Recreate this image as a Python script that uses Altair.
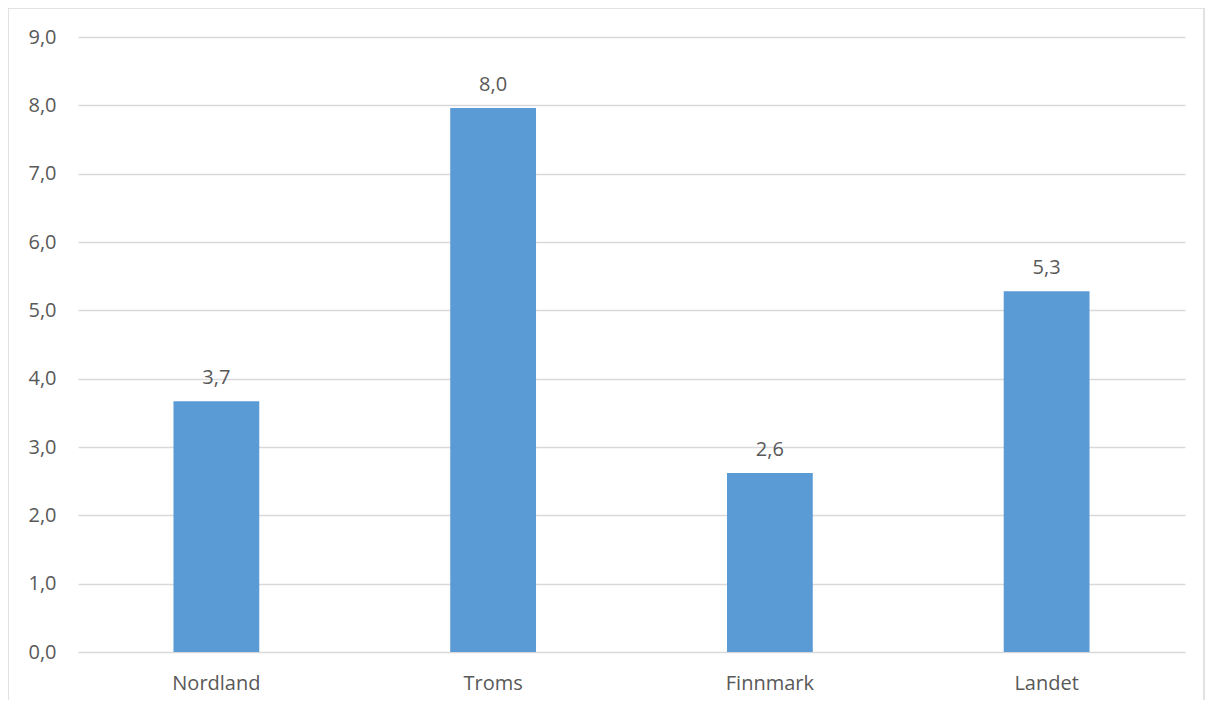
import altair as alt
import pandas as pd

regions = ["Nordland", "Troms", "Finnmark", "Landet"]
values = [3.67, 7.96, 2.62, 5.28]

df = pd.DataFrame({"region": regions, "value": values})

FONT = "Open Sans"
FS = 20
TXT = "#595959"
GRID = "#d9d9d9"

base = alt.Chart(df).encode(
    x=alt.X("region:N", sort=regions, title=None,
            scale=alt.Scale(paddingInner=0.69, paddingOuter=0.345),
            axis=alt.Axis(labelAngle=0, domain=False, ticks=False, labelPadding=21,
                          labelFont=FONT, labelFontSize=FS, labelColor=TXT, grid=False))
)

bars = base.mark_bar(color="#5B9BD5").encode(
    y=alt.Y("value:Q", title=None,
            scale=alt.Scale(domain=[0, 9], nice=False),
            axis=alt.Axis(values=[0, 1, 2, 3, 4, 5, 6, 7, 8, 9], domain=False, ticks=False,
                          labelExpr="replace(format(datum.value, '.1f'), '.', ',')",
                          labelFont=FONT, labelFontSize=FS, labelColor=TXT, labelPadding=22,
                          grid=True, gridColor=GRID, gridWidth=1.3))
)

labels = base.transform_calculate(
    lbl="replace(format(datum.value, '.1f'), '.', ',')"
).mark_text(font=FONT, fontSize=FS, color=TXT, baseline="alphabetic", dy=-17).encode(
    y=alt.Y("value:Q"),
    text="lbl:N",
)

frame = alt.Chart(df).transform_filter("datum.region == 'Nordland'").mark_rect(
    fill=None, fillOpacity=0, stroke=GRID, strokeWidth=1.5, clip=False
).encode(
    x=alt.value(-70), x2=alt.value(1126), y=alt.value(-29), y2=alt.value(700)
)

chart = alt.layer(frame, bars, labels).properties(
    width=1107, height=615,
    background="white",
    autosize=alt.AutoSizeParams(type="none"),
    padding={"left": 70, "top": 29, "right": 20, "bottom": 48},
).configure_view(strokeWidth=0, stroke="transparent")

chart.save("out.html", embed_options={"renderer": "svg", "actions": False})
